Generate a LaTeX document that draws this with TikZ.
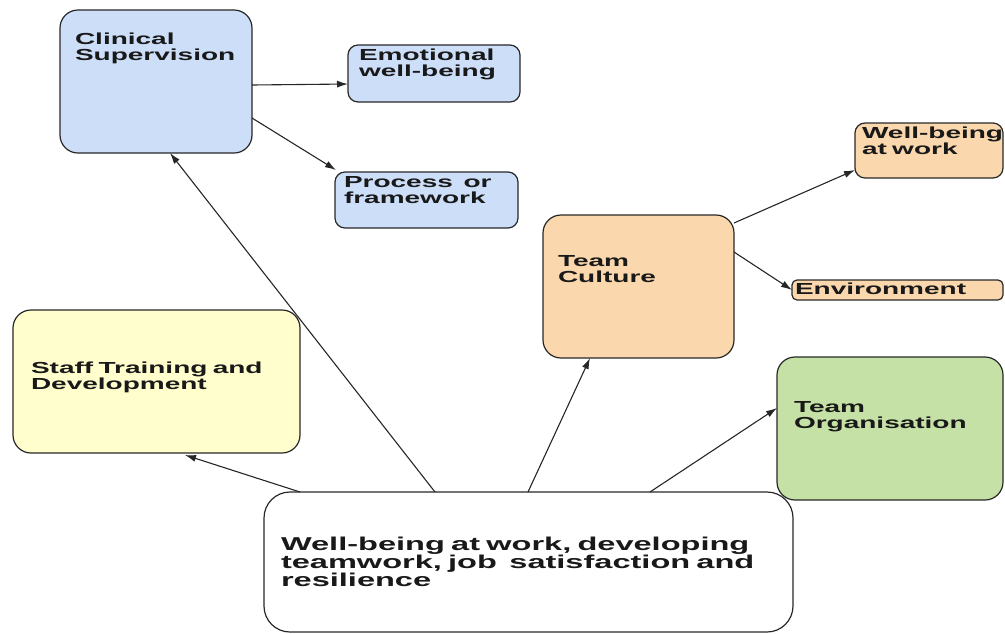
\documentclass[tikz,border=0pt]{standalone}
\usepackage{fontspec}
\usetikzlibrary{arrows.meta}
\newfontfamily\boxfont{Liberation Sans}[FakeStretch=1.75]

\definecolor{linegray}{RGB}{40,40,40}
\definecolor{supblue}{RGB}{204,222,248}
\definecolor{culturepeach}{RGB}{250,215,172}
\definecolor{trainyellow}{RGB}{255,254,204}
\definecolor{orggreen}{RGB}{198,225,166}

\tikzset{
  box/.style={draw=linegray,line width=1.2pt,rounded corners=18pt,anchor=north west,
    align=left,outer sep=0pt,inner ysep=0pt,text=black!90,
    font=\boxfont\bfseries\fontsize{16}{16}\selectfont},
  smallbox/.style={box,rounded corners=10pt},
  link/.style={-{Latex[length=11pt,width=7pt]},draw=black!85,line width=1.1pt}
}

\begin{document}
\begin{tikzpicture}[x=1pt,y=-1pt]
  \useasboundingbox (0,0) rectangle (1005,633);

  \node[box,fill=supblue,inner xsep=15pt,text width=162pt,text height=34pt,text depth=109pt]
    (clin) at (60,10) {Clinical\\Supervision};
  \node[smallbox,fill=supblue,inner xsep=11pt,text width=150pt,text height=15pt,text depth=42pt]
    (emo) at (348,45) {Emotional\\well-being};
  \node[smallbox,fill=supblue,inner xsep=9pt,text width=165pt,text height=15pt,text depth=41pt]
    (proc) at (335,172) {Process~~or\\framework};

  \node[box,fill=culturepeach,inner xsep=15pt,text width=161pt,text height=51pt,text depth=92pt]
    (cult) at (543,215) {Team\\Culture};
  \node[smallbox,fill=culturepeach,inner xsep=7pt,text width=134pt,text height=15pt,text depth=40pt]
    (wbw) at (855,123) {\mbox{Well-being}\\at work};
  \node[smallbox,rounded corners=5pt,fill=culturepeach,inner xsep=3pt,text width=205pt,text height=14pt,text depth=6pt]
    (env) at (792,280) {Environment};

  \node[box,fill=trainyellow,inner xsep=18pt,text width=251pt,text height=63pt,text depth=80pt]
    (staff) at (13,310) {Staff Training and\\Development};
  \node[box,fill=orggreen,inner xsep=17pt,text width=192pt,text height=55pt,text depth=88pt]
    (org) at (777,357) {Team\\Organisation};

  \node[box,fill=white,rounded corners=26pt,inner xsep=17pt,text width=495pt,text height=58pt,text depth=82pt,
    font=\boxfont\bfseries\fontsize{18.6}{18}\selectfont]
    (main) at (264,492) {Well-being at work, developing\\teamwork, job~~satisfaction and\\resilience};

  % from the centre outwards
  \draw[link] ([xshift=171pt]main.north west) -- ([xshift=110pt]clin.south west);
  \draw[link] ([xshift=36pt]main.north west) -- ([xshift=172pt,yshift=-2pt]staff.south west);
  \draw[link] ([xshift=264pt]main.north west) -- ([xshift=47pt]cult.south west);
  \draw[link] ([xshift=386pt]main.north west) -- ([yshift=-51pt]org.north west);

  \draw[link] ([yshift=-75pt]clin.north east) -- ([yshift=-39pt]emo.north west);
  \draw[link] ([yshift=-108pt]clin.north east) -- ([xshift=1pt,yshift=2pt]proc.north west);
  \draw[link] ([yshift=-8pt]cult.north east) -- ([yshift=-47pt]wbw.north west);
  \draw[link] ([yshift=-37pt]cult.north east) -- ([yshift=-10pt]env.north west);

\end{tikzpicture}
\end{document}
